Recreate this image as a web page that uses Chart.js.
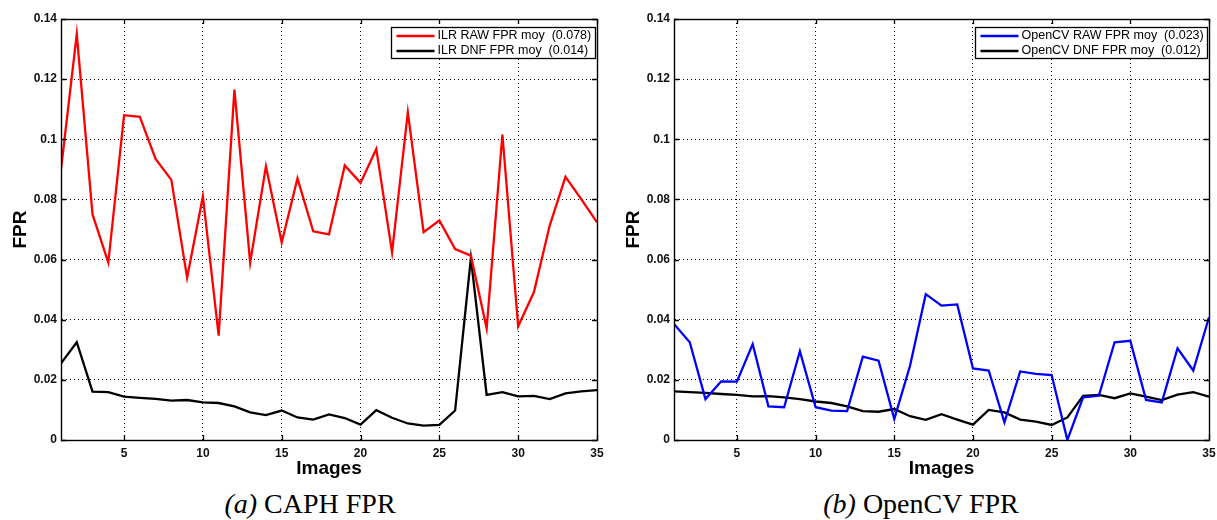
<!DOCTYPE html>
<html lang="fr">
<head>
<meta charset="UTF-8">
<title>FPR CAPH / OpenCV</title>
<script src="https://cdn.jsdelivr.net/npm/chart.js@4.4.1/dist/chart.umd.min.js"></script>
<style>
  body { margin: 0; background: #fff; }
  #wrap { position: relative; width: 1217px; height: 520px; }
  .pane { position: absolute; top: 0; height: 480px; }
  .cap { position: absolute; top: 488px; font-family: "Liberation Serif", serif; font-size: 28px; line-height: 32px; color: #000; text-align: center; }
  .cap i { font-style: italic; }
</style>
</head>
<body>
<div id="wrap">
  <div class="pane" style="left:0;width:608px"><canvas id="c1" width="608" height="480"></canvas></div>
  <div class="pane" style="left:608px;width:609px"><canvas id="c2" width="609" height="480"></canvas></div>
  <div class="cap" style="left:0;width:620px"><i>(a)</i> CAPH FPR</div>
  <div class="cap" style="left:608px;width:626px"><i>(b)</i> OpenCV FPR</div>
</div>

<script>
// images 1..35
const images = [1, 2, 3, 4, 5, 6, 7, 8, 9, 10, 11, 12, 13, 14, 15, 16, 17, 18, 19, 20,
                21, 22, 23, 24, 25, 26, 27, 28, 29, 30, 31, 32, 33, 34, 35];
const xTicks = [5, 10, 15, 20, 25, 30, 35];

// (a) CAPH
const ilrRaw = [0.090, 0.135, 0.075, 0.059, 0.108, 0.1075, 0.0935, 0.0865, 0.054, 0.081,
                0.0347, 0.1165, 0.059, 0.091, 0.0657, 0.087, 0.0694, 0.0684, 0.0913, 0.0855,
                0.0968, 0.0624, 0.109, 0.0691, 0.073, 0.0635, 0.0613, 0.0371, 0.1016, 0.0378,
                0.0492, 0.0713, 0.0875, 0.0801, 0.0724];
const ilrDnf = [0.0255, 0.0325, 0.0161, 0.0159, 0.0144, 0.014, 0.0137, 0.0131, 0.0133, 0.0125,
                0.0123, 0.0112, 0.0092, 0.0083, 0.0098, 0.0075, 0.0068, 0.0085, 0.0073, 0.0051,
                0.0099, 0.0074, 0.0055, 0.0048, 0.005, 0.0098, 0.0605, 0.015, 0.0159, 0.0145,
                0.0147, 0.0136, 0.0155, 0.0162, 0.0166];

// (b) OpenCV
const cvRaw = [0.0386, 0.0325, 0.0136, 0.0195, 0.0194, 0.0319, 0.0112, 0.0109, 0.0295, 0.0109,
               0.0098, 0.0096, 0.0277, 0.0264, 0.007, 0.0247, 0.0485, 0.0447, 0.0451, 0.0238,
               0.0231, 0.0059, 0.0228, 0.022, 0.0216, 0.0, 0.0142, 0.0147, 0.0325, 0.033,
               0.0133, 0.0125, 0.0305, 0.0231, 0.0408];
const cvDnf = [0.0162, 0.0159, 0.0157, 0.0153, 0.015, 0.0145, 0.0146, 0.0142, 0.0136, 0.0128,
               0.0123, 0.0112, 0.0096, 0.0094, 0.0103, 0.0079, 0.0067, 0.0086, 0.0068, 0.0051,
               0.01, 0.0092, 0.0068, 0.0061, 0.005, 0.0075, 0.0147, 0.015, 0.0139, 0.0155,
               0.0144, 0.0133, 0.0151, 0.0159, 0.0144];

const labelsA = ['ILR RAW FPR moy  (0.078)', 'ILR DNF FPR moy  (0.014)'];
const labelsB = ['OpenCV RAW FPR moy  (0.023)', 'OpenCV DNF FPR moy  (0.012)'];

const FONT = '"Liberation Sans", Arial, sans-serif';

// box + inner ticks like matlab axes
const boxPlugin = {
  id: 'box',
  afterDatasetsDraw(chart) {
    const ctx = chart.ctx;
    const a = chart.chartArea;
    const xs = chart.scales.x, ys = chart.scales.y;
    ctx.save();
    ctx.strokeStyle = '#000';
    ctx.lineWidth = 1.3;
    ctx.beginPath();
    xs.ticks.forEach(t => {
      const px = Math.round(xs.getPixelForValue(t.value)) + 0.5;
      ctx.moveTo(px, a.top); ctx.lineTo(px, a.top + 5);
      ctx.moveTo(px, a.bottom); ctx.lineTo(px, a.bottom - 5);
    });
    ys.ticks.forEach(t => {
      const py = Math.round(ys.getPixelForValue(t.value)) + 0.5;
      ctx.moveTo(a.left, py); ctx.lineTo(a.left + 5, py);
      ctx.moveTo(a.right, py); ctx.lineTo(a.right - 5, py);
    });
    ctx.stroke();
    ctx.lineWidth = 1.4;
    ctx.strokeRect(Math.round(a.left) + 0.5, Math.round(a.top) + 0.5,
                   Math.round(a.right - a.left), Math.round(a.bottom - a.top));
    ctx.restore();
  }
};

// legend box in the upper right corner of the plot
const legendBoxPlugin = {
  id: 'legendBox',
  afterDraw(chart, args, opts) {
    const ctx = chart.ctx;
    const a = chart.chartArea;
    const sets = chart.data.datasets;
    ctx.save();
    ctx.font = '12.5px ' + FONT;
    let tw = 0;
    sets.forEach(d => { tw = Math.max(tw, ctx.measureText(d.label).width); });
    const lineLen = 38, gap = 3, padL = 5, padR = 4, rowH = 15;
    const w = Math.round(padL + lineLen + gap + tw + padR);
    const h = sets.length * rowH + 1;
    const x0 = Math.round(a.right - opts.right - w) + 0.5;
    const y0 = Math.round(a.top + opts.top) + 0.5;
    ctx.fillStyle = '#fff';
    ctx.fillRect(x0, y0, w, h);
    ctx.strokeStyle = '#000';
    ctx.lineWidth = 1.3;
    ctx.strokeRect(x0, y0, w, h);
    sets.forEach((d, i) => {
      const cy = y0 + 1 + rowH * i + rowH / 2;
      ctx.strokeStyle = d.borderColor;
      ctx.lineWidth = 2.5;
      ctx.beginPath();
      ctx.moveTo(x0 + padL, cy);
      ctx.lineTo(x0 + padL + lineLen, cy);
      ctx.stroke();
      ctx.fillStyle = '#000';
      ctx.textBaseline = 'middle';
      ctx.fillText(d.label, x0 + padL + lineLen + gap, cy);
    });
    ctx.restore();
  }
};

function makeChart(id, raw, dnf, rawColor, labels, yWidth, titlePad, padRight) {
  const ctx = document.getElementById(id).getContext('2d');
  return new Chart(ctx, {
    type: 'line',
    data: {
      labels: images,
      datasets: [
        { label: labels[0], data: raw, borderColor: rawColor, borderWidth: 2.3 },
        { label: labels[1], data: dnf, borderColor: '#000', borderWidth: 2.3 }
      ]
    },
    options: {
      responsive: false,
      animation: false,
      elements: { point: { radius: 0 }, line: { tension: 0 } },
      layout: { padding: { left: 0, right: padRight, top: 19, bottom: 0 } },
      plugins: {
        legend: { display: false },
        tooltip: { enabled: false },
        legendBox: { right: 2, top: 8 }
      },
      scales: {
        x: {
          type: 'linear',
          min: 1,
          max: 35,
          afterBuildTicks: s => { s.ticks = xTicks.map(v => ({ value: v })); },
          afterFit: s => { s.height = 40; s.paddingLeft = 0; s.paddingRight = 0; },
          grid: { color: '#000', lineWidth: 1, drawTicks: false },
          border: { color: '#000', width: 1, dash: [1, 3] },
          ticks: { color: '#111', padding: 6, maxRotation: 0,
                   font: { family: FONT, size: 12, weight: 'bold' } },
          title: { display: true, text: 'Images', color: '#000', padding: 0,
                   font: { family: FONT, size: 19, weight: 'bold' } }
        },
        y: {
          min: 0,
          max: 0.14,
          afterFit: s => { s.width = yWidth; },
          grid: { color: '#000', lineWidth: 1, drawTicks: false },
          border: { color: '#000', width: 1, dash: [1, 3] },
          ticks: {
            stepSize: 0.02,
            color: '#111',
            padding: 4,
            font: { family: FONT, size: 12, weight: 'bold' },
            callback: v => String(+v.toFixed(2))
          },
          title: { display: true, text: 'FPR', color: '#000', padding: { top: titlePad, bottom: 0 },
                   font: { family: FONT, size: 19, weight: 'bold' } }
        }
      }
    },
    plugins: [boxPlugin, legendBoxPlugin]
  });
}

makeChart('c1', ilrRaw, ilrDnf, '#ff0000', labelsA, 61, 9, 11);
makeChart('c2', cvRaw, cvDnf, '#0000ff', labelsB, 66, 14, 8);
</script>
</body>
</html>
